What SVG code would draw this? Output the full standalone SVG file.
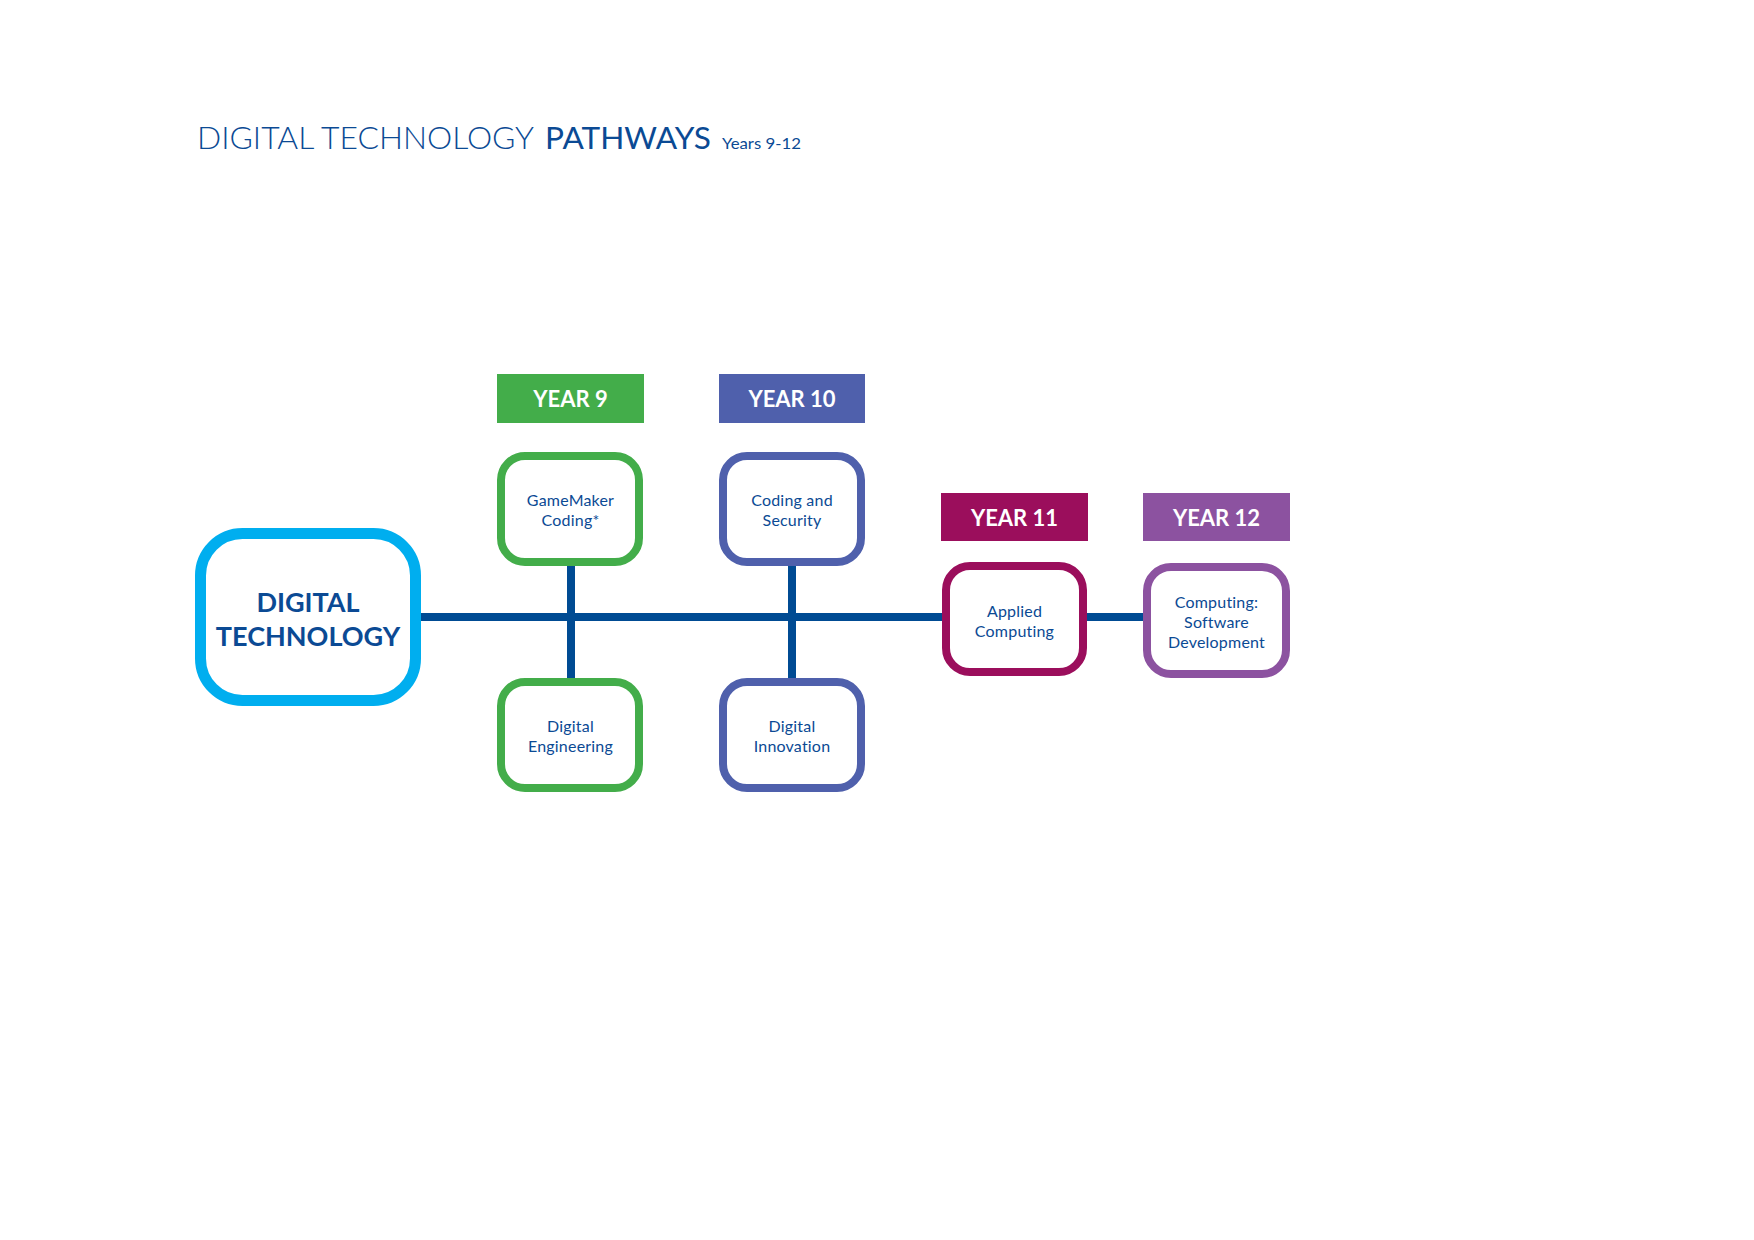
<svg xmlns="http://www.w3.org/2000/svg" width="1754" height="1240" viewBox="0 0 1754 1240">
<style>
  .title{font-family:Lato,"Open Sans","Liberation Sans",sans-serif;fill:#0b4a94}
  .box{fill:#ffffff;stroke-width:8}
  .lbl{font-family:Lato,"Open Sans","Liberation Sans",sans-serif;font-size:16px;fill:#0b4a94;text-anchor:middle;letter-spacing:0.2px}
  .big{font-family:Lato,"Open Sans","Liberation Sans",sans-serif;font-size:27px;font-weight:700;fill:#0b4a94;text-anchor:middle}
  .yr{font-family:Lato,"Open Sans","Liberation Sans",sans-serif;font-size:22px;font-weight:700;fill:#ffffff;text-anchor:middle}
  .conn{stroke:#004b93;stroke-width:8;fill:none}
  .g{stroke:#43ad4a}
  .b{stroke:#4f60ac}
  .m{stroke:#9b0e5c}
  .p{stroke:#8c52a0}
</style>
<rect width="1754" height="1240" fill="#ffffff"/>
<g id="title">
  <text class="title" x="197" y="149" font-size="31" font-weight="300" textLength="337" lengthAdjust="spacingAndGlyphs">DIGITAL TECHNOLOGY</text>
  <text class="title" x="545" y="149" font-size="31" font-weight="400" textLength="166" lengthAdjust="spacingAndGlyphs">PATHWAYS</text>
  <text class="title" x="722" y="149" font-size="16" font-weight="400" textLength="79" lengthAdjust="spacingAndGlyphs">Years 9-12</text>
</g>
<g id="connectors">
  <line class="conn" x1="416" y1="617" x2="1146" y2="617"/>
  <line class="conn" x1="571" y1="560" x2="571" y2="684"/>
  <line class="conn" x1="792" y1="560" x2="792" y2="684"/>
</g>
<g id="digital-technology">
  <rect x="200.5" y="533.5" width="215" height="167" rx="42" fill="#ffffff" stroke="#00aeef" stroke-width="11"/>
  <text class="big" x="308" y="612">DIGITAL</text>
  <text class="big" x="308" y="646">TECHNOLOGY</text>
</g>
<g id="year9">
  <rect x="497" y="374" width="147" height="49" fill="#43ad4a"/>
  <text class="yr" x="570.5" y="407">YEAR 9</text>
</g>
<g id="year10">
  <rect x="719" y="374" width="146" height="49" fill="#4f60ac"/>
  <text class="yr" x="792" y="407">YEAR 10</text>
</g>
<g id="year11">
  <rect x="941" y="493" width="147" height="48" fill="#9b0e5c"/>
  <text class="yr" x="1014.5" y="526">YEAR 11</text>
</g>
<g id="year12">
  <rect x="1143" y="493" width="147" height="48" fill="#8c52a0"/>
  <text class="yr" x="1216.5" y="526">YEAR 12</text>
</g>
<g id="gamemaker">
  <rect class="box g" x="501" y="456" width="138" height="106" rx="24"/>
  <text class="lbl" x="570.5" y="506">GameMaker</text>
  <text class="lbl" x="570.5" y="526">Coding*</text>
</g>
<g id="digital-engineering">
  <rect class="box g" x="501" y="682" width="138" height="106" rx="24"/>
  <text class="lbl" x="570.5" y="732">Digital</text>
  <text class="lbl" x="570.5" y="752">Engineering</text>
</g>
<g id="coding-security">
  <rect class="box b" x="723" y="456" width="138" height="106" rx="24"/>
  <text class="lbl" x="792" y="506">Coding and</text>
  <text class="lbl" x="792" y="526">Security</text>
</g>
<g id="digital-innovation">
  <rect class="box b" x="723" y="682" width="138" height="106" rx="24"/>
  <text class="lbl" x="792" y="732">Digital</text>
  <text class="lbl" x="792" y="752">Innovation</text>
</g>
<g id="applied-computing">
  <rect class="box m" x="946" y="566" width="137" height="106" rx="24"/>
  <text class="lbl" x="1014.5" y="617">Applied</text>
  <text class="lbl" x="1014.5" y="637">Computing</text>
</g>
<g id="computing-software">
  <rect class="box p" x="1147" y="567" width="139" height="107" rx="24"/>
  <text class="lbl" x="1216.5" y="608">Computing:</text>
  <text class="lbl" x="1216.5" y="628">Software</text>
  <text class="lbl" x="1216.5" y="648">Development</text>
</g>
</svg>
